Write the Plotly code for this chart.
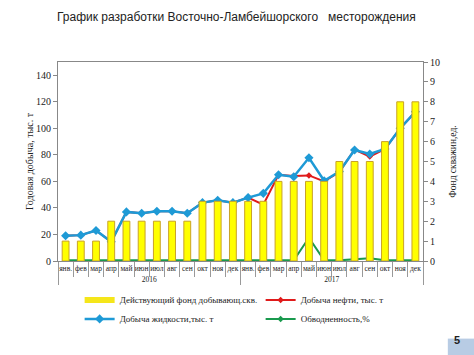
import plotly.graph_objects as go

months = ["янв.", "фев", "мар", "апр", "май", "июн", "июл", "авг", "сен", "окт", "ноя", "дек"]
years = ["2016"] * 12 + ["2017"] * 12
month_labels = months + months

wells = [1, 1, 1, 2, 2, 2, 2, 2, 2, 3, 3, 3,
         3, 3, 4, 4, 4, 4, 5, 5, 5, 6, 8, 8]
liquid = [19, 19.5, 23, 14.5, 37, 36, 37.5, 37.5, 36, 44, 45.7, 44,
          47.8, 51, 65, 63.5, 77.8, 60.5, 67.5, 83.7, 80.7, 84.5, 100, 112.5]
oil = [19, 19.5, 23, 14.5, 37, 36, 37.5, 37.5, 36, 44, 45.7, 44,
       47.8, 42.5, 65, 64, 64.5, 60, 67, 84, 78.7, 84.5, 100, 112.5]
watercut = [0.5, 0.5, 0.5, 0.5, 0.5, 0.5, 0.5, 0.5, 0.5, 0.5, 0.5, 0.5,
            0.5, 0.5, 0.5, 0.5, 17.5, 0.5, 0.5, 1, 2, 0.5, 0.5, 0.5]

x = [years, month_labels]
serif = "Liberation Serif"

fig = go.Figure()
fig.add_trace(go.Bar(x=x, y=wells, yaxis="y2", name="Действующий фонд добывающ.скв.",
                     marker=dict(color="#FFFF00", line=dict(color="#C9A227", width=1)),
                     width=0.45, showlegend=False))
# legend stand-in for the bars (flat rectangle symbol)
fig.add_trace(go.Scatter(x=x, y=[None] * len(wells), name="Действующий фонд добывающ.скв.",
                         mode="lines", line=dict(color="#F5E61A", width=6)))
fig.add_trace(go.Scatter(x=x, y=oil, name="Добыча нефти, тыс. т", mode="lines+markers",
                         line=dict(color="#E01B1B", width=2),
                         marker=dict(symbol="diamond", size=5, color="#E01B1B")))
fig.add_trace(go.Scatter(x=x, y=liquid, name="Добыча жидкости,тыс. т", mode="lines+markers",
                         line=dict(color="#1E9AD6", width=2.5),
                         marker=dict(symbol="diamond", size=7, color="#1E9AD6")))
fig.add_trace(go.Scatter(x=x, y=watercut, name="Обводненность,%", mode="lines+markers",
                         line=dict(color="#1A9A4E", width=2),
                         marker=dict(symbol="diamond", size=5, color="#1A9A4E")))

fig.update_layout(
    width=474, height=355,
    margin=dict(l=58, r=51, t=62, b=94, autoexpand=False),
    plot_bgcolor="white", paper_bgcolor="white",
    font=dict(family=serif, size=10, color="#222222"),
    xaxis=dict(type="multicategory", showline=True, linecolor="#888888", linewidth=1,
               mirror=True, ticks="outside", tickson="boundaries", ticklen=15,
               tickcolor="#999999", showdividers=True, dividercolor="#999999",
               dividerwidth=1, tickfont=dict(family=serif, size=7.5), tickangle=0,
               showgrid=False, range=[-0.5, 23.5], automargin=False),
    yaxis=dict(range=[0, 150], dtick=20, showline=True, linecolor="#888888", linewidth=1,
               ticks="outside", ticklen=4, tickcolor="#888888", showgrid=False, zeroline=False,
               tickfont=dict(family=serif, size=10), automargin=False,
               title=dict(text="Годовая добыча, тыс. т", font=dict(family=serif, size=10), standoff=0)),
    yaxis2=dict(range=[0, 10], dtick=1, overlaying="y", side="right", showline=True,
                linecolor="#888888", linewidth=1, ticks="outside", ticklen=4, tickcolor="#888888",
                showgrid=False, zeroline=False, tickfont=dict(family=serif, size=10), automargin=False,
                title=dict(text="Фонд скважин,ед.", font=dict(family=serif, size=9.5), standoff=10)),
    legend=dict(orientation="h", xref="container", yref="container", x=0.168, y=0.196,
                xanchor="left", yanchor="top",
                entrywidth=136, entrywidthmode="pixels", font=dict(family=serif, size=9),
                itemwidth=30, tracegroupgap=0, bgcolor="rgba(0,0,0,0)"),
    showlegend=True,
)

fig.add_annotation(text="График разработки Восточно-Ламбейшорского   месторождения",
                   xref="paper", yref="paper", x=0.49, y=(261 - 17) / 199, showarrow=False,
                   font=dict(family="Liberation Sans", size=12, color="#222222"),
                   xanchor="center", yanchor="middle")

fig.add_shape(type="rect", xref="paper", yref="paper", x0=1.068, x1=1.145, y0=-0.39, y1=-0.475,
              fillcolor="#B8CCE4", line=dict(width=0), layer="below")
fig.add_annotation(text="<b>5</b>", xref="paper", yref="paper", x=1.106, y=-0.435,
                   showarrow=False, font=dict(family="Liberation Sans", size=11, color="#222222"))

fig.write_html("out.html", config={"displayModeBar": False},
               post_script="document.body.style.margin='0';document.body.style.overflow='hidden';")
